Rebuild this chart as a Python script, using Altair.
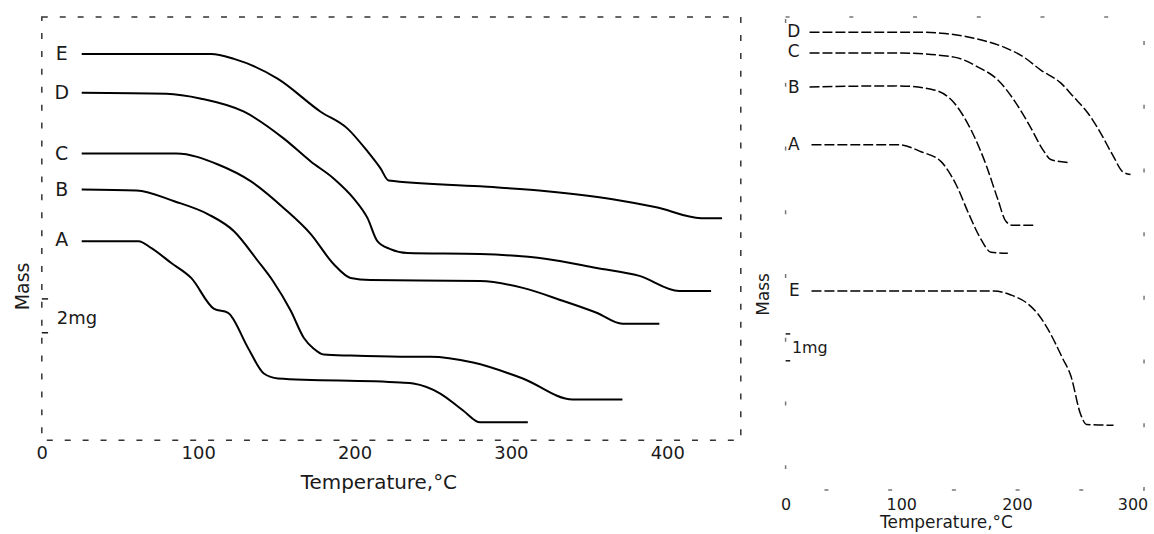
import altair as alt
import pandas as pd

FONT = "DejaVu Sans"
INK = "#1a1a1a"

# ---------------- left panel (temperature degC, mass mg) ----------------
L_E_T = [25.5, 108.3, 122.9, 151.0, 178.3, 195.5, 208.3, 216.6, 221.7, 280.3, 322.9, 365.0, 393.0, 421.7, 435.0]
L_E_M = [22.82, 22.82, 22.53, 21.35, 19.41, 18.41, 17.06, 16.06, 15.35, 15.0, 14.71, 14.24, 13.76, 13.12, 13.12]

L_D_T = [25.5, 79.6, 101.9, 129.3, 154.8, 172.0, 186.6, 199.4, 208.3, 214.6, 222.9, 233.8, 280.3, 322.9, 354.8, 382.2, 407.6, 428.0]
L_D_M = [20.53, 20.47, 20.18, 19.41, 17.82, 16.47, 15.47, 14.29, 13.12, 11.76, 11.29, 11.06, 11.0, 10.71, 10.18, 9.71, 8.82, 8.82]

L_C_T = [25.5, 86.0, 112.7, 133.8, 154.8, 172.0, 186.6, 197.5, 210.2, 280.3, 307.6, 333.1, 354.8, 371.3, 394.9]
L_C_M = [16.94, 16.94, 16.29, 15.29, 13.71, 12.18, 10.41, 9.59, 9.47, 9.41, 9.0, 8.24, 7.53, 6.88, 6.88]

L_B_T = [25.5, 60.5, 84.7, 106.4, 122.9, 138.2, 147.8, 159.2, 167.5, 173.9, 180.3, 197.5, 229.3, 248.4, 275.8, 307.6, 339.5, 371.3]
L_B_M = [14.82, 14.76, 14.12, 13.35, 12.35, 10.59, 9.41, 7.65, 6.06, 5.41, 5.06, 5.0, 4.94, 4.94, 4.59, 3.65, 2.41, 2.41]

L_A_T = [25.5, 61.8, 70.1, 82.8, 95.5, 110.2, 119.1, 131.8, 142.0, 151.0, 229.3, 237.6, 254.8, 269.4, 280.3, 310.8]
L_A_M = [11.76, 11.76, 11.35, 10.47, 9.59, 7.76, 7.53, 5.47, 3.94, 3.65, 3.41, 3.35, 2.76, 1.76, 1.06, 1.06]

L_LABELS = ["E", "D", "C", "B", "A"]
L_LABEL_T = [12.7, 12.7, 12.7, 12.7, 12.7]
L_LABEL_M = [22.8, 20.5, 16.9, 14.8, 11.8]

L_BAR_M = [8.35, 6.35]
L_BAR_TEXT = "2mg"
L_BAR_TEXT_T = 9.6
L_BAR_TEXT_M = 7.18

# ---------------- right panel ----------------
R_D_T = [20.7, 111.2, 134.5, 162.9, 188.8, 206.0, 220.7, 237.9, 249.1, 261.2, 269.8, 283.6, 291.4, 298.3]
R_D_M = [17.04, 17.04, 17.0, 16.81, 16.48, 16.11, 15.63, 15.15, 14.63, 14.04, 13.48, 12.41, 11.85, 11.74]

R_C_T = [20.7, 100.0, 145.7, 166.4, 183.6, 199.1, 212.1, 222.4, 229.3, 244.0]
R_C_M = [16.26, 16.26, 16.11, 15.74, 15.26, 14.41, 13.48, 12.67, 12.30, 12.19]

R_B_T = [20.7, 97.4, 128.4, 145.7, 160.3, 173.3, 183.6, 190.5, 196.6, 214.7]
R_B_M = [15.0, 15.04, 14.89, 14.41, 13.41, 12.11, 10.81, 10.0, 9.85, 9.85]

R_A_T = [22.4, 97.4, 117.2, 134.5, 147.4, 158.6, 169.0, 177.6, 192.2]
R_A_M = [12.85, 12.85, 12.59, 12.22, 11.37, 10.26, 9.33, 8.85, 8.81]

R_E_T = [22.4, 180.2, 194.8, 209.5, 218.1, 227.6, 239.7, 246.6, 255.2, 260.3, 283.6]
R_E_M = [7.41, 7.41, 7.26, 6.93, 6.56, 5.93, 4.89, 4.26, 2.81, 2.44, 2.41]

R_LABELS = ["D", "C", "B", "A", "E"]
R_LABEL_T = [7.0, 7.0, 7.0, 7.0, 7.5]
R_LABEL_M = [17.04, 16.3, 14.96, 12.85, 7.41]

R_BAR_M = [5.81, 4.81]
R_BAR_TEXT = "1mg"
R_BAR_TEXT_T = 5.5
R_BAR_TEXT_M = 5.3


def curves_df(d):
    rows = []
    for name, (ts, ms) in d.items():
        for i, (t, m) in enumerate(zip(ts, ms)):
            rows.append({"curve": name, "T": t, "M": m, "i": i})
    return pd.DataFrame(rows)


left_df = curves_df({"E": (L_E_T, L_E_M), "D": (L_D_T, L_D_M), "C": (L_C_T, L_C_M),
                     "B": (L_B_T, L_B_M), "A": (L_A_T, L_A_M)})
right_df = curves_df({"D": (R_D_T, R_D_M), "C": (R_C_T, R_C_M), "B": (R_B_T, R_B_M),
                      "A": (R_A_T, R_A_M), "E": (R_E_T, R_E_M)})


def panel(df, labels, lab_t, lab_m, bar_m, bar_text, bar_t, bar_m_text,
          xdom, xvals, ydom, w, h, lab_fs, title_fs, lab_pad, title_pad,
          ytitle_pad, line_w, dash, view_dash, view_col, name_fs,
          xtitle_x, ytitle_y, ytitle_fs):
    xs = alt.Scale(domain=xdom, nice=False, zero=False)
    ys = alt.Scale(domain=ydom, nice=False, zero=False)
    xax = alt.Axis(values=xvals, ticks=False, domain=False, grid=False,
                   labelFont=FONT, labelFontSize=lab_fs, labelColor=INK,
                   labelPadding=lab_pad, title="Temperature,°C", titleFont=FONT,
                   titleFontSize=title_fs, titleFontWeight="normal", titleColor=INK,
                   titlePadding=title_pad, labelFlush=False, titleX=xtitle_x)
    yax = alt.Axis(labels=False, ticks=False, domain=False, grid=False,
                   title="Mass", titleFont=FONT, titleFontSize=ytitle_fs,
                   titleFontWeight="normal", titleColor=INK, titlePadding=ytitle_pad,
                   titleY=ytitle_y)
    line_kw = dict(color="black", strokeWidth=line_w, interpolate="monotone")
    if dash:
        line_kw["strokeDash"] = dash
    lines = alt.Chart(df).mark_line(**line_kw).encode(
        x=alt.X("T:Q", scale=xs, axis=xax),
        y=alt.Y("M:Q", scale=ys, axis=yax),
        detail="curve:N",
        order="i:Q",
    )
    lab_df = pd.DataFrame({"name": labels, "T": lab_t, "M": lab_m})
    labs = alt.Chart(lab_df).mark_text(font=FONT, fontSize=name_fs, color=INK,
                                       align="center", baseline="middle").encode(
        x=alt.X("T:Q", scale=xs), y=alt.Y("M:Q", scale=ys), text="name:N")
    bar_df = pd.DataFrame({"M": bar_m, "x0": [xdom[0]] * 2, "x1": [xdom[0] + 4] * 2})
    bar = alt.Chart(bar_df).mark_rule(color=INK, strokeWidth=1.5).encode(
        x=alt.X("x0:Q", scale=xs), x2="x1:Q", y=alt.Y("M:Q", scale=ys))
    bt_df = pd.DataFrame({"t": [bar_text], "T": [bar_t], "M": [bar_m_text]})
    bt = alt.Chart(bt_df).mark_text(font=FONT, fontSize=name_fs - 1, color=INK,
                                    align="left", baseline="middle").encode(
        x=alt.X("T:Q", scale=xs), y=alt.Y("M:Q", scale=ys), text="t:N")
    return alt.layer(lines, labs, bar, bt).properties(
        width=w, height=h,
        view=alt.ViewBackground(stroke=view_col, strokeWidth=1.5, strokeDash=view_dash),
    )


left = panel(left_df, L_LABELS, L_LABEL_T, L_LABEL_M, L_BAR_M, L_BAR_TEXT,
             L_BAR_TEXT_T, L_BAR_TEXT_M, [0, 447], [0, 100, 200, 300, 400], [0, 25],
             702, 425, 18, 20, 4, 10, 9, 2.0, None, [6, 12], "#333333", 19,
             338, 270, 19)

right = panel(right_df, R_LABELS, R_LABEL_T, R_LABEL_M, R_BAR_M, R_BAR_TEXT,
              R_BAR_TEXT_T, R_BAR_TEXT_M, [0, 310], [0, 100, 200, 300], [0, 17.6],
              360, 475, 16, 17, 7, 2, 13, 1.5, [10, 3], [4, 60], "#777777", 17,
              161, 278, 17)

chart = alt.hconcat(left, right, spacing=12).properties(
    padding={"left": 13, "top": 15, "right": 5, "bottom": 0},
    background="white",
)

chart.save("out.html", embed_options={"renderer": "svg", "actions": False})
